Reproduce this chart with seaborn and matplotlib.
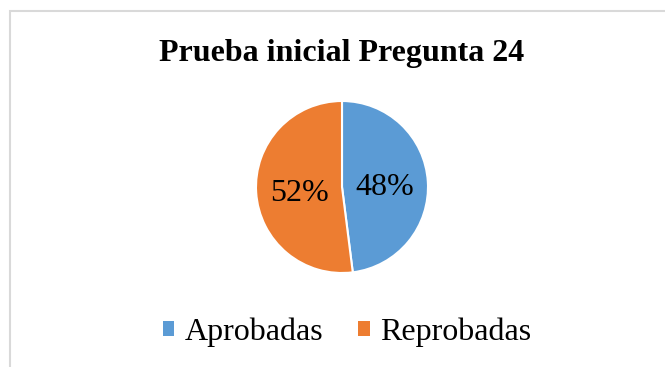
import matplotlib
matplotlib.use("Agg")
import matplotlib.pyplot as plt
from matplotlib.patches import Rectangle, Patch
import seaborn as sns

# Results of the initial test, question 24
categories = ["Aprobadas", "Reprobadas"]
percentages = [48, 52]
title_text = "Prueba inicial Pregunta 24"

sns.set_theme(style="white")
plt.rcParams["font.family"] = ["Liberation Serif", "DejaVu Serif"]
plt.rcParams["text.color"] = "black"

colors = ["#5B9BD5", "#ED7D31"]

W, H = 665, 367
fig = plt.figure(figsize=(W / 100, H / 100), dpi=100)
fig.patch.set_facecolor("white")

# chart area border (runs off the right and bottom edges)
fig.add_artist(Rectangle((9.5 / W, -0.05), 1.1, 1 - 10.5 / H + 0.05,
                         transform=fig.transFigure, fill=False,
                         edgecolor="#d9d9d9", linewidth=1.5))

# pie axes: centre (342, 187) px, radius 86 px
cx, cy, r = 342, 187, 86
ax = fig.add_axes([(cx - r) / W, 1 - (cy + r) / H, 2 * r / W, 2 * r / H])
wedges, texts, autotexts = ax.pie(
    percentages, colors=colors, startangle=90, counterclock=False,
    autopct=lambda p: f"{p:.0f}%", pctdistance=0.5,
    wedgeprops=dict(edgecolor="white", linewidth=1.5),
    textprops=dict(fontsize=23, color="black"),
)
for t in autotexts:
    t.set_va("center_baseline")
ax.set_xlim(-1, 1)
ax.set_ylim(-1, 1)
ax.set_aspect("equal")
ax.axis("off")

fig.text(cx / W, 1 - 54 / H, title_text, ha="center", va="center",
         fontsize=23, fontweight="bold", color="black")

handles = [Patch(facecolor=c, edgecolor="none") for c in colors]
fig.legend(handles, categories, loc="center", ncol=2,
           bbox_to_anchor=(347 / W, 1 - 332 / H), frameon=False,
           fontsize=23, labelcolor="black", handlelength=0.36,
           handleheight=0.36, handletextpad=0.34, columnspacing=1.08)

fig.savefig("out.png", dpi=100, facecolor="white")
